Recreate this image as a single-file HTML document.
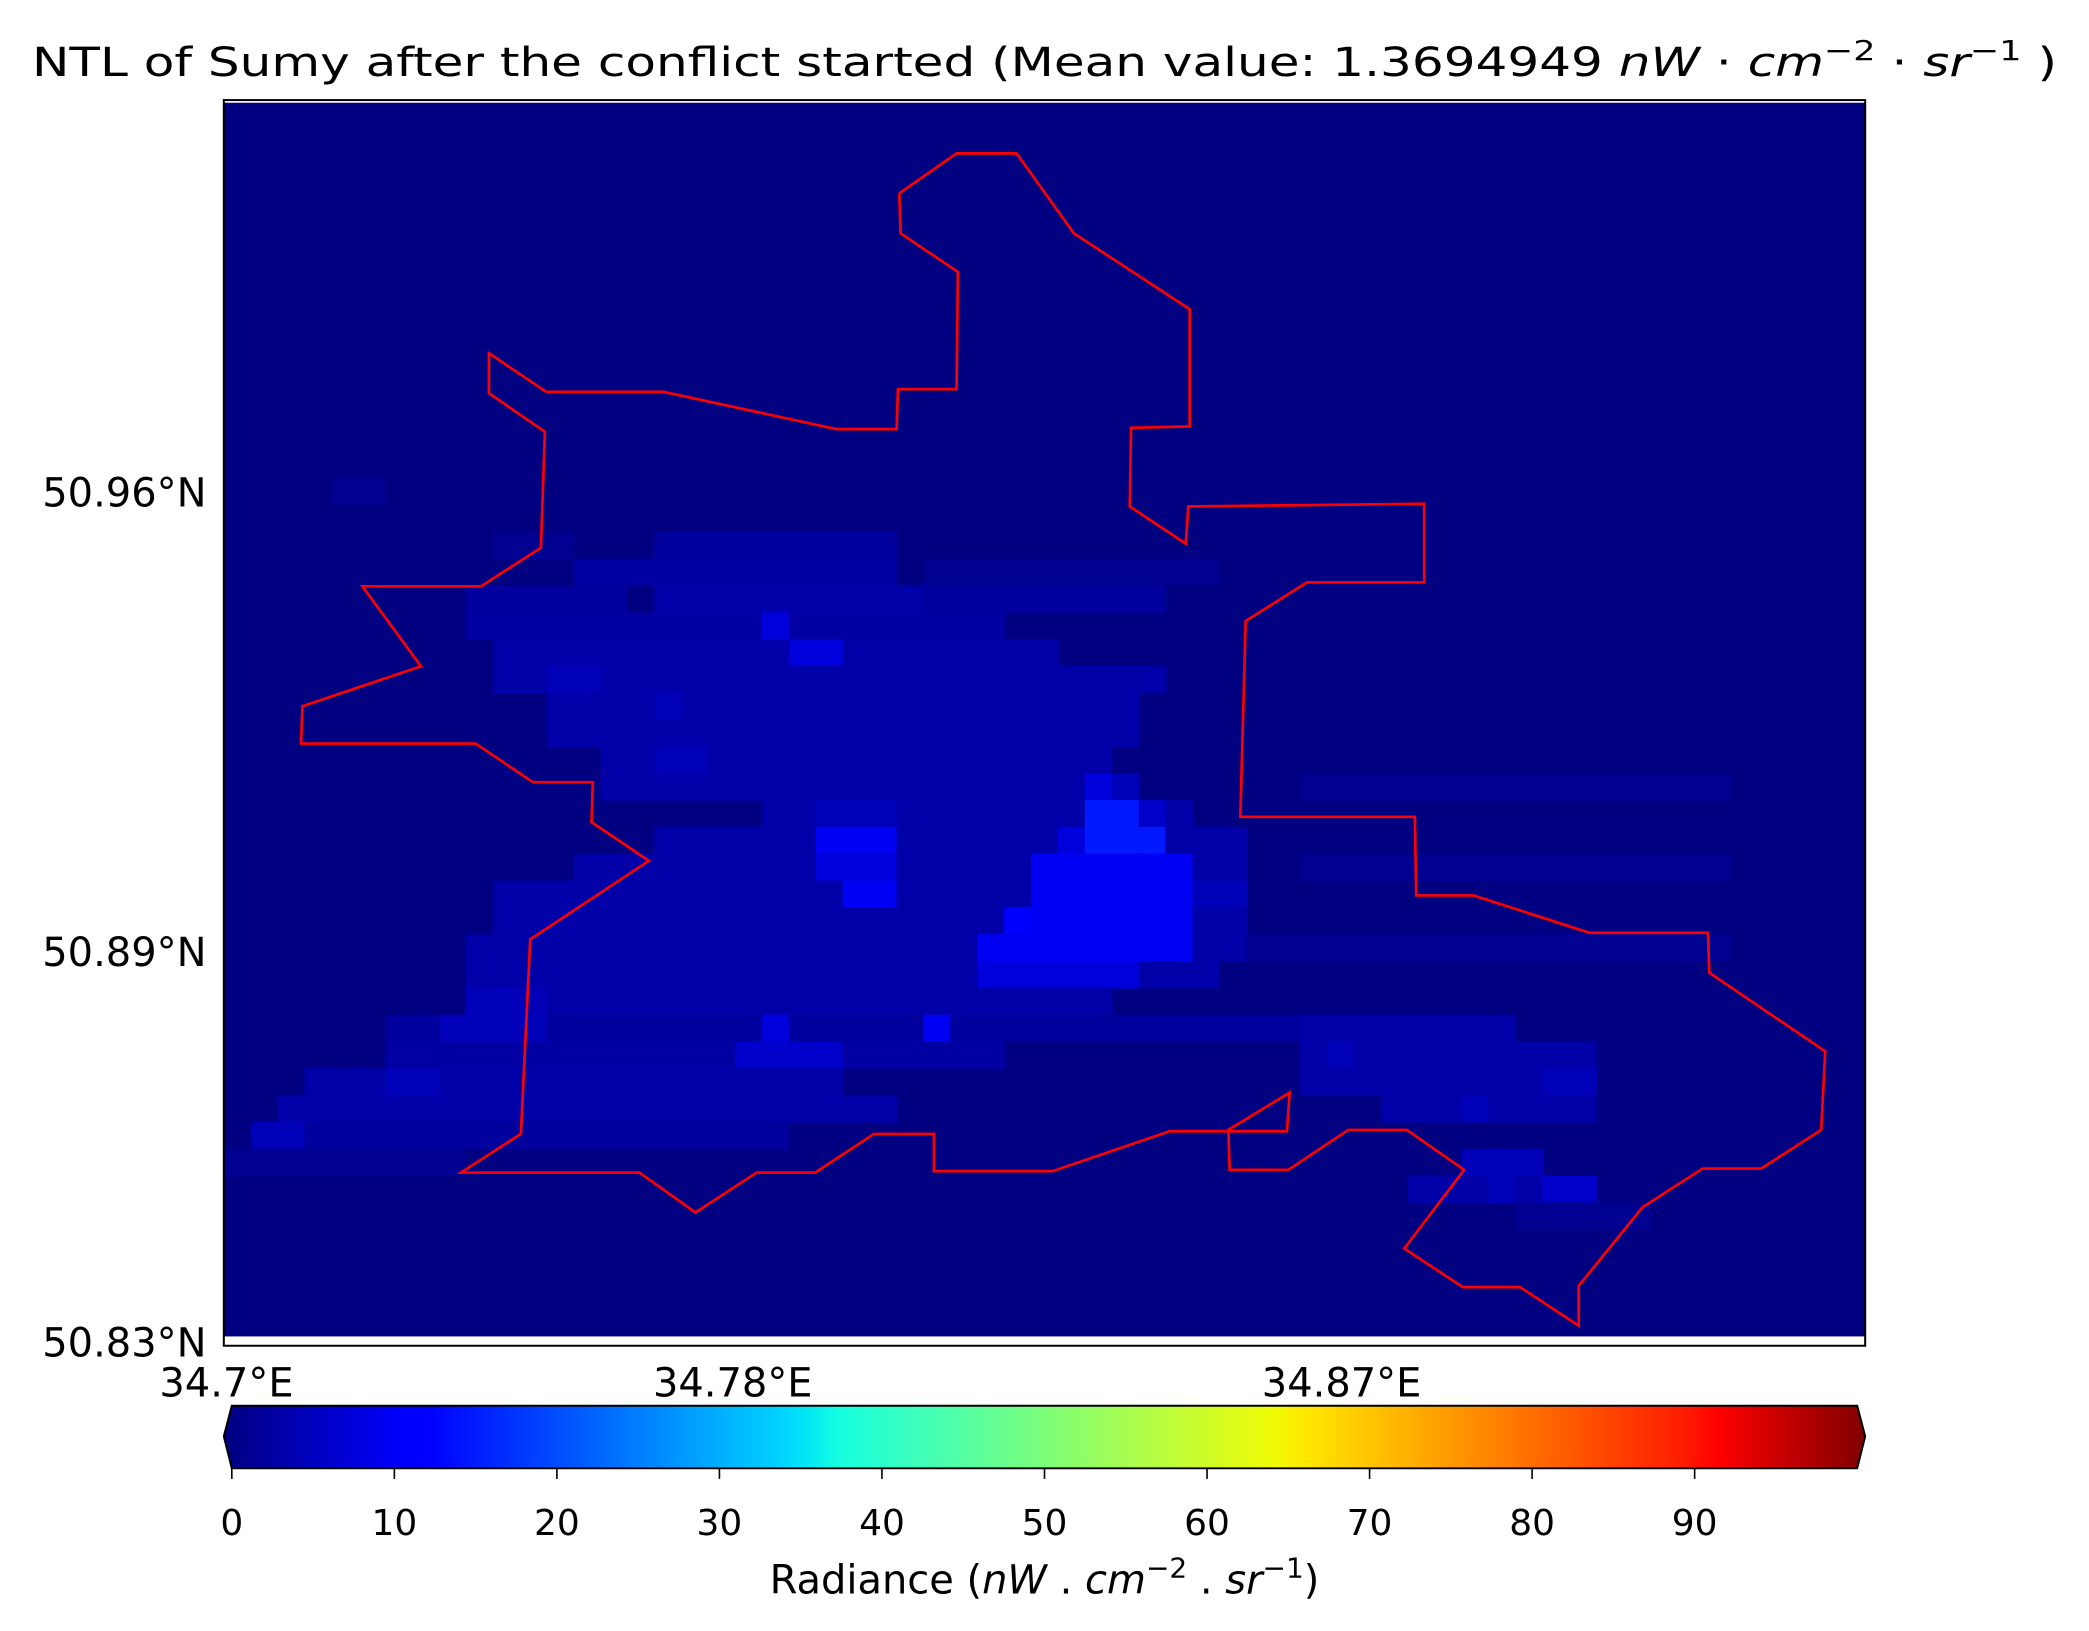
<!DOCTYPE html>
<html><head><meta charset="utf-8"><style>
html,body{margin:0;padding:0;background:#fff;}
svg{display:block;font-family:"DejaVu Sans","Liberation Sans",sans-serif;}
</style></head><body>
<svg id="fig" width="2089" height="1631" viewBox="0 0 1568 1224" xmlns="http://www.w3.org/2000/svg">
<defs>
<linearGradient id="jet" x1="0" x2="1" y1="0" y2="0">
<stop offset="0" stop-color="#000080"/><stop offset="0.11" stop-color="#0000ff"/>
<stop offset="0.125" stop-color="#0000ff"/><stop offset="0.34" stop-color="#00d4ff"/>
<stop offset="0.35" stop-color="#00e0f8"/><stop offset="0.375" stop-color="#16ffe1"/>
<stop offset="0.64" stop-color="#f1fc06"/><stop offset="0.66" stop-color="#ffe600"/>
<stop offset="0.89" stop-color="#ff1c00"/><stop offset="0.91" stop-color="#ff0000"/>
<stop offset="1" stop-color="#800000"/>
</linearGradient>
<clipPath id="plotclip"><rect x="168" y="77" width="1232" height="926"/></clipPath>
</defs>
<text x="784" y="57" font-size="30" text-anchor="middle" textLength="1520" lengthAdjust="spacingAndGlyphs">NTL of Sumy after the conflict started (Mean value: 1.3694949 <tspan font-style="italic">nW</tspan> · <tspan font-style="italic">cm</tspan><tspan font-size="21" dy="-12">−2</tspan><tspan dy="12"> · </tspan><tspan font-style="italic">sr</tspan><tspan font-size="21" dy="-12">−1</tspan><tspan dy="12"> )</tspan></text>
<rect x="168" y="77" width="1232" height="926" fill="#000080"/>
<g id="cells" clip-path="url(#plotclip)"></g>
<polyline id="boundary" fill="none" stroke="#ff0000" stroke-width="2" stroke-linejoin="miter"/>
<rect x="168" y="75" width="1232" height="935" fill="none" stroke="#000" stroke-width="1.5"/>
<g id="axes" font-size="30"></g>
<path d="M174 1055 L1394 1055 L1400 1078 L1394 1102 L174 1102 L168 1078 Z" fill="url(#jet)" stroke="#000" stroke-width="1.5"/>
<g id="cbticks" font-size="27"></g>
<text x="784" y="1196" font-size="30" text-anchor="middle">Radiance (<tspan font-style="italic">nW</tspan> . <tspan font-style="italic">cm</tspan><tspan font-size="21" dy="-12">−2</tspan><tspan dy="12"> . </tspan><tspan font-style="italic">sr</tspan><tspan font-size="21" dy="-12">−1</tspan><tspan dy="12">)</tspan></text>
</svg>
<script>
// Heatmap runs: [row, colStart, colEnd, radiance]
const cellRuns = [
[14,4,5,1.5],[16,10,12,1.5],[16,16,24,2.5],[17,13,24,3],[17,26,36,1.5],
[18,9,14,2.5],[18,16,25,3.5],[18,26,34,2.5],
[19,9,28,3],[19,20,20,8],[20,10,30,3.5],[20,21,22,8],
[21,10,34,3.5],[21,12,13,5],[22,12,33,3.5],[23,12,33,3.5],[22,16,16,5],
[24,14,32,3.5],[24,16,17,5],[25,14,33,3.5],[25,32,32,8],[25,33,33,5],
[26,20,35,3.5],[26,22,24,5],[26,32,33,15],[26,34,34,6.5],
[27,16,37,3.5],[27,22,24,10],[27,31,31,8],[27,32,34,15],
[28,13,37,3.5],[28,22,24,8],[28,30,35,10],
[29,10,37,3.5],[29,23,24,10],[29,30,35,10],[29,36,37,5],
[30,10,37,3.5],[30,29,29,12],[30,30,35,10],
[31,9,37,3.5],[31,28,29,10],[31,30,35,10],
[32,9,36,3.5],[32,28,33,8],[33,9,32,3.5],[33,9,11,5],
[34,6,40,2.5],[34,8,11,5],[34,26,26,10],[34,20,20,8],[34,40,47,3.5],
[35,6,28,3],[35,19,22,6.5],[35,40,50,3.5],[35,41,41,5],
[36,3,22,3.5],[36,6,7,5],[36,40,50,3.5],[36,49,50,5],
[37,2,24,3.5],[37,43,50,3.5],[37,46,46,5],
[38,1,20,2.5],[38,1,2,5],[39,0,8,1.5],[39,46,48,5],
[40,44,50,3.5],[40,49,50,6.5],[40,47,47,5],[41,48,52,1.5],
[25,40,55,1.5],[28,40,55,1.5],[31,38,55,1.5]
];
const nCols = 61, nRows = 46;
const latTicks = ["50.96°N","50.89°N","50.83°N"];
const latTickY = [50.96, 50.89, 50.83];
const lonTicks = ["34.7°E","34.78°E","34.87°E"];
const lonTickX = [34.7, 34.78, 34.87];
const cbTickValues = [0,10,20,30,40,50,60,70,80,90];
const boundaryPts = [[675,145],[718,115],[763,115],[806,175],[893,232],[893,320],[849,321],[848,380],[890,408],[892,380],[1069,378],[1069,437],[981,437],[935,466],[931,613],[1062,613],[1063,672],[1106,672],[1193,700],[1282,700],[1283,730],[1370,789],[1367,848],[1322,877],[1278,877],[1233,906],[1185,965],[1185,995],[1141,966],[1098,966],[1054,937],[1099,878],[1056,848],[1012,848],[967,878],[923,878],[922,848],[968,820],[966,849],[878,849],[790,879],[701,879],[701,851],[656,851],[612,880],[568,880],[522,910],[480,880],[346,880],[391,851],[398,705],[487,646],[444,617],[445,587],[400,587],[357,558],[226,558],[227,530],[316,500],[272,440],[361,440],[406,411],[409,324],[367,295],[367,265],[410,294],[498,294],[628,322],[673,322],[674,292],[718,292],[719,204],[676,175],[675,145]];

const NS="http://www.w3.org/2000/svg";
const px0=168, py0=77, pw=1232, ph=926, cw=pw/nCols, chh=ph/nRows;
function jet(v){const t=Math.max(0,Math.min(1,v/100));
 function seg(p){for(let i=0;i<p.length-1;i++){if(t<=p[i+1][0]){const a=p[i],b=p[i+1];return a[1]+(b[1]-a[1])*(t-a[0])/(b[0]-a[0]);}}return p[p.length-1][1];}
 const r=seg([[0,0],[0.35,0],[0.66,1],[0.89,1],[1,0.5]]),g=seg([[0,0],[0.125,0],[0.375,1],[0.64,1],[0.91,0],[1,0]]),b=seg([[0,0.5],[0.11,1],[0.34,1],[0.65,0],[1,0]]);
 return `rgb(${Math.round(r*255)},${Math.round(g*255)},${Math.round(b*255)})`;}
const grid=[];for(let r=0;r<nRows;r++){grid.push(new Array(nCols).fill(0.3));}
cellRuns.forEach(([r,c0,c1,v])=>{for(let c=c0;c<=c1;c++)grid[r][c]=Math.max(grid[r][c],v);});
const cg=document.getElementById('cells');
for(let r=0;r<nRows;r++)for(let c=0;c<nCols;c++){if(grid[r][c]<=0.3)continue;
 const el=document.createElementNS(NS,'rect');
 
 
 el.setAttribute('x',px0+c*cw);el.setAttribute('y',py0+r*chh);el.setAttribute('width',cw+0.5);el.setAttribute('height',chh+0.5);
 el.setAttribute('fill',jet(grid[r][c]));cg.appendChild(el);}
const bl=document.getElementById('boundary');
bl.setAttribute('points',boundaryPts.map(p=>p.join(',')).join(' '));
// axis functions
const yLat=lat=>370+(50.96-lat)*(715-370)/0.07;
const xLon=lon=>170+(lon-34.7)*(550-170)/0.08;
const ax=document.getElementById('axes');
latTicks.forEach((s,i)=>{const t=document.createElementNS(NS,'text');
 
 
 let y=yLat(latTickY[i]); if(i===2) y=1008;
 t.setAttribute('x',155);t.setAttribute('y',y+10);t.setAttribute('text-anchor','end');t.textContent=s;ax.appendChild(t);});
lonTicks.forEach((s,i)=>{const t=document.createElementNS(NS,'text');
 
 
 let x=xLon(lonTickX[i]); if(i===2) x=1007;
 t.setAttribute('x',x);t.setAttribute('y',1048);t.setAttribute('text-anchor','middle');t.textContent=s;ax.appendChild(t);});
const cbx=v=>174+v*(1394-174)/100;
const cb=document.getElementById('cbticks');
cbTickValues.forEach(v=>{const l=document.createElementNS(NS,'line');
 
 
 l.setAttribute('x1',cbx(v));l.setAttribute('x2',cbx(v));l.setAttribute('y1',1102);l.setAttribute('y2',1110);l.setAttribute('stroke','#000');l.setAttribute('stroke-width','1.2');cb.appendChild(l);
 const t=document.createElementNS(NS,'text');
 
 
 t.setAttribute('x',cbx(v));t.setAttribute('y',1152);t.setAttribute('text-anchor','middle');t.textContent=v;cb.appendChild(t);});
</script>
</body></html>
